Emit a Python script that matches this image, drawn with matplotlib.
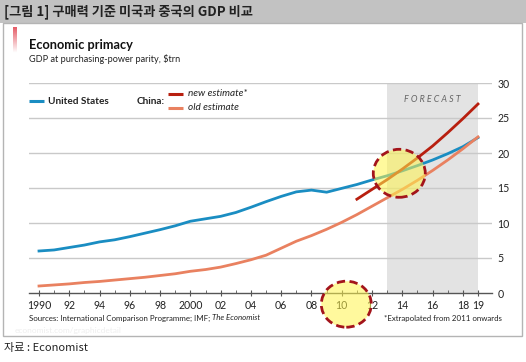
import numpy as np
import matplotlib
matplotlib.use("Agg")
import matplotlib.pyplot as plt
from matplotlib.patches import Rectangle, Ellipse

plt.rcParams['font.family'] = ['Lato', 'Noto Sans CJK KR', 'DejaVu Sans']

# data, $trn at PPP
years = list(range(1990, 2020))
us = [6.0, 6.15, 6.5, 6.85, 7.3, 7.6, 8.05, 8.55, 9.05, 9.6,
      10.25, 10.6, 10.95, 11.5, 12.25, 13.05, 13.8, 14.45, 14.7, 14.4,
      14.95, 15.5, 16.15, 16.75, 17.45, 18.2, 19.0, 19.9, 20.9, 22.2]
china_old = [1.0, 1.15, 1.3, 1.5, 1.65, 1.85, 2.05, 2.25, 2.5, 2.75,
             3.1, 3.35, 3.7, 4.2, 4.75, 5.4, 6.4, 7.4, 8.2, 9.1,
             10.1, 11.2, 12.4, 13.6, 14.8, 16.1, 17.5, 19.0, 20.6, 22.3]
new_years = list(range(2011, 2020))
china_new = [13.4, 14.8, 16.2, 17.7, 19.3, 21.0, 22.9, 24.9, 27.0]

xtick_years = list(range(1990, 2019, 2)) + [2019]
xtick_labels = ['1990', '92', '94', '96', '98', '2000', '02', '04', '06', '08',
                '10', '12', '14', '16', '18', '19']
yticks = [0, 5, 10, 15, 20, 25, 30]

blue = '#1a8dc2'
red = '#b81f0f'
orange = '#e98160'
grid = '#c9c9c9'

W, H = 526, 362
fig = plt.figure(figsize=(W / 100, H / 100), dpi=100)

# background overlay in pixel coords
bg = fig.add_axes([0, 0, 1, 1], zorder=0)
bg.set_xlim(0, W)
bg.set_ylim(H, 0)
bg.axis('off')
bg.add_patch(Rectangle((0, 0), W, 23, color='#c2c2c2', lw=0))
bg.add_patch(Rectangle((2.5, 23), 519, 313, fill=False, ec='#b4b4b4', lw=1))
bg.text(4, 12, '[그림 1] 구매력 기준 미국과 중국의 GDP 비교', fontsize=9.5,
        fontweight='bold', family=['Noto Sans CJK KR', 'DejaVu Sans'],
        va='center', ha='left', color='#222222')
bg.text(4, 348, '자료 : Economist', fontsize=8,
        family=['Noto Sans CJK KR', 'DejaVu Sans'], va='center', color='#222222')

# red accent bar with fade
n = 40
cols = np.zeros((n, 1, 4))
cols[:, 0, 0] = 0.88
cols[:, 0, 1] = 0.25
cols[:, 0, 2] = 0.3
cols[:, 0, 3] = np.linspace(0.85, 0.0, n)
bg.imshow(cols, extent=(13, 17, 53, 27), aspect='auto', zorder=2)

bg.text(29, 45, 'Economic primacy', fontsize=9.2, fontweight='bold',
        va='center', color='#111111')
bg.text(29, 59, 'GDP at purchasing-power parity, $trn', fontsize=6.6,
        va='center', color='#222222')

# legend
bg.plot([29, 44], [101, 101], color=blue, lw=2.2, solid_capstyle='butt')
bg.text(48, 101, 'United States', fontsize=7.2, fontweight='bold', va='center', color='#222222')
bg.text(137, 101, 'China:', fontsize=7.2, fontweight='bold', va='center', color='#222222')
bg.plot([168, 183], [94, 94], color=red, lw=2.2, solid_capstyle='butt')
bg.plot([168, 183], [108, 108], color=orange, lw=2.2, solid_capstyle='butt')
bg.text(188, 94, 'new estimate*', fontsize=7.2, style='italic', va='center', color='#222222')
bg.text(188, 108, 'old estimate', fontsize=7.2, style='italic', va='center', color='#222222')

src = bg.text(29, 318, 'Sources: International Comparison Programme; IMF; ', fontsize=5.7,
              va='center', color='#222222')
bg.text(502, 318, '*Extrapolated from 2011 onwards', fontsize=5.7, ha='right',
        va='center', color='#222222')
bg.text(15, 331, 'economist.com/graphicdetail', fontsize=6, va='center', color='#eeeeee')

# main chart
x0, x1 = 29, 492
px_per_year = (478 - 39) / 29
xl = 1990 - (39 - x0) / px_per_year
xr = 2019 + (x1 - 478) / px_per_year
ax = fig.add_axes([x0 / W, (H - 293) / H, (x1 - x0) / W, 210 / H], zorder=1)
ax.patch.set_alpha(0)
ax.set_xlim(xl, xr)
ax.set_ylim(0, 30)

ax.axvspan(2013, 2019, color='#e3e3e3', lw=0, zorder=0)
for v in yticks[1:]:
    ax.axhline(v, color=grid, lw=1, zorder=1)

ax.plot(years, us, color=blue, lw=2, zorder=3)
ax.plot(years, china_old, color=orange, lw=2, zorder=3)
ax.plot(new_years, china_new, color=red, lw=2, zorder=4)

ax.text(2016, 27.7, 'F O R E C A S T', fontsize=6.4, style='italic', ha='center',
        va='center', color='#666666')

for s in ['top', 'left', 'right']:
    ax.spines[s].set_visible(False)
ax.spines['bottom'].set_color('#555555')
ax.spines['bottom'].set_linewidth(1)

ax.yaxis.tick_right()
ax.set_yticks(yticks)
ax.set_yticklabels([str(v) for v in yticks], fontsize=7.6, color='#222222')
ax.tick_params(axis='y', length=0, pad=4)

ax.set_xticks(xtick_years)
ax.set_xticklabels(xtick_labels, fontsize=7.6, color='#222222')
ax.set_xticks([y for y in years if y % 2 == 1 and y != 2019], minor=True)
ax.tick_params(axis='x', which='major', length=4, direction='inout', color='#555555', pad=3)
ax.tick_params(axis='x', which='minor', length=2.5, direction='in', color='#555555')

# highlight circles
for cx, cy, w, h in [(2013.8, 17.1, 52 / px_per_year, 48 / 7),
                     (2010.3, -1.6, 50 / px_per_year, 46 / 7)]:
    e = Ellipse((cx, cy), w, h, facecolor=(1.0, 0.96, 0.3, 0.55), edgecolor='#a3141b',
                lw=2, ls=(0, (3, 1.6)), clip_on=False, zorder=6)
    ax.add_patch(e)

# italic publication name right after the sources text
fig.canvas.draw()
bb = src.get_window_extent()
x_end = bg.transData.inverted().transform((bb.x1, bb.y0))[0]
bg.text(x_end, 318, 'The Economist', fontsize=5.7, style='italic', va='center', color='#222222')

fig.savefig('out.png', dpi=100)
